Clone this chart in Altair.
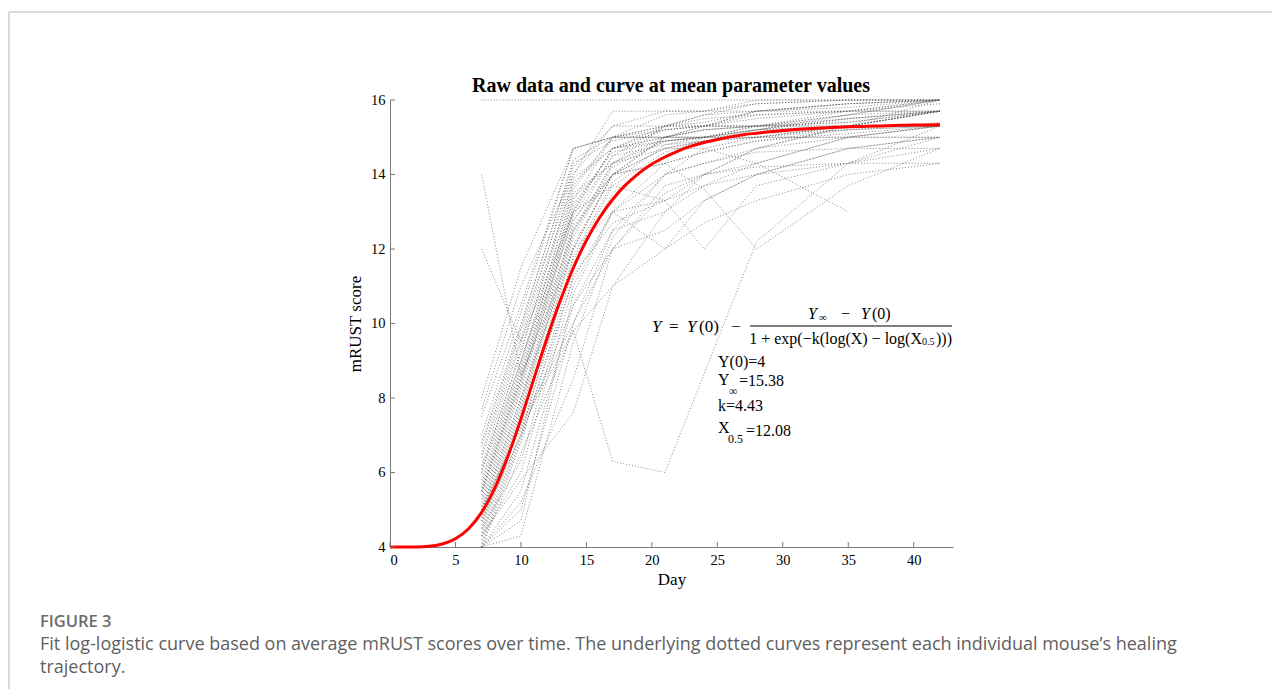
import altair as alt
import pandas as pd

# ---------------- data ----------------
DAYS = [7, 10, 14, 17, 21, 24, 28, 35, 42]

BAND_A = [
    [4.0, 6.8, 11.5, 13.5, 14.5, 15.0, 15.3, 15.6, 16.0],
    [4.2, 7.0, 11.8, 13.8, 14.8, 15.0, 15.2, 15.5, 15.7],
    [4.4, 7.3, 12.0, 14.0, 15.0, 15.3, 15.7, 15.9, 16.0],
    [4.6, 7.6, 12.3, 14.2, 14.9, 15.0, 15.2, 15.3, 15.3],
    [4.8, 7.8, 12.5, 14.3, 15.3, 15.6, 15.7, 15.9, 16.0],
    [5.0, 8.0, 12.7, 14.5, 14.8, 14.9, 15.0, 15.2, 15.4],
    [5.2, 8.3, 13.0, 14.7, 15.2, 15.3, 15.5, 15.7, 15.7],
    [5.4, 8.5, 13.2, 14.6, 14.9, 15.0, 15.0, 15.0, 15.0],
    [5.6, 8.8, 13.3, 15.0, 15.3, 15.6, 15.9, 16.0, 16.0],
    [5.8, 9.0, 13.5, 14.3, 14.7, 14.9, 15.1, 15.3, 15.7],
    [6.0, 9.3, 13.7, 15.0, 15.6, 15.7, 15.7, 15.8, 16.0],
    [6.2, 9.5, 13.8, 14.7, 15.0, 15.2, 15.3, 15.3, 15.3],
    [6.5, 9.8, 14.0, 15.3, 15.3, 15.5, 15.6, 15.7, 15.9],
    [6.8, 10.0, 14.3, 14.9, 15.2, 15.3, 15.3, 15.5, 15.7],
    [7.0, 10.3, 14.7, 15.0, 15.0, 15.0, 15.1, 15.2, 15.3],
    [7.5, 10.5, 14.7, 15.0, 15.0, 15.0, 15.0, 15.0, 15.0],
]
BAND_B = [
    [4.1, 6.9, 11.2, 13.0, 14.3, 14.6, 14.9, 15.1, 15.3],
    [4.3, 7.1, 11.7, 13.7, 14.6, 14.9, 15.2, 15.6, 16.0],
    [4.5, 7.4, 12.1, 14.0, 14.7, 14.9, 15.0, 15.3, 15.7],
    [4.7, 7.7, 12.4, 14.3, 15.0, 15.2, 15.3, 15.6, 15.7],
    [4.9, 7.9, 12.6, 14.0, 14.3, 14.6, 14.9, 15.2, 15.3],
    [5.1, 8.2, 12.9, 14.5, 15.3, 15.4, 15.7, 15.9, 16.0],
    [5.3, 8.4, 13.1, 14.7, 15.0, 15.2, 15.3, 15.4, 15.7],
    [5.5, 8.6, 13.4, 14.3, 14.9, 15.0, 15.2, 15.5, 15.7],
    [5.7, 8.9, 13.6, 15.0, 15.2, 15.3, 15.6, 15.7, 16.0],
    [6.1, 9.2, 13.9, 14.7, 14.9, 15.0, 15.2, 15.3, 15.3],
    [6.4, 9.6, 14.2, 15.3, 15.7, 15.7, 15.9, 16.0, 16.0],
    [6.7, 9.9, 14.4, 15.0, 15.3, 15.3, 15.3, 15.4, 15.7],
]
SLOW = [
    [4.0, 5.5, 10.5, 12.5, 14.0, 14.3, 14.6, 14.7, 14.7],
    [4.0, 5.0, 10.0, 12.0, 13.7, 14.0, 14.2, 14.3, 14.3],
    [4.0, 4.3, 9.5, 12.3, 14.0, 14.3, 14.7, 15.0, 15.3],
    [4.0, 4.7, 10.8, 13.0, 14.0, 14.7, 15.0, 15.3, 15.7],
    [4.3, 6.0, 11.0, 13.0, 13.3, 14.0, 14.3, 15.0, 15.3],
    [4.5, 6.3, 11.3, 12.7, 13.3, 13.7, 14.0, 14.3, 14.7],
    [4.0, 6.5, 9.8, 11.0, 12.0, 12.7, 13.3, 14.0, 14.3],
    [4.7, 7.0, 10.5, 12.0, 12.5, 13.3, 14.0, 14.7, 15.0],
    [5.0, 7.3, 10.0, 12.5, 13.0, 14.0, 14.7, 15.3, 15.7],
    [4.3, 5.8, 7.6, 11.0, 13.0, 13.7, 14.3, 15.0, 15.3],
    [4.0, 5.2, 8.5, 12.0, 13.5, 14.0, 14.7, 15.3, 16.0],
]
FAST = [
    [8.0, 11.5, 14.7, 15.0, 15.0, 15.0, 15.3, 15.3, 15.7],
    [7.7, 11.0, 14.0, 15.7, 15.7, 15.7, 16.0, 16.0, 16.0],
    [16.0, 16.0, 16.0, 16.0, 16.0, 16.0, 16.0, 16.0, 16.0],
]
OUTLIERS = [
    [14.0, 8.6, 12.0, 14.0, 15.0, 15.3, 15.7, 15.7, 16.0],
    [12.0, 9.5, 13.0, 14.7, 15.3, 15.3, 15.3, 15.7, 15.7],
    [5.0, 7.2, 9.8, 6.3, 6.0, None, 12.2, 14.3, 15.0],
    [5.5, 8.5, 12.5, 14.0, 14.7, 14.7, 14.3, 13.0, None],
    [5.0, 8.0, 12.0, 13.0, 12.0, 13.3, 14.0, 14.7, 15.0],
    [6.0, 9.0, 13.0, 13.7, 13.3, 12.0, 13.7, 14.3, 15.3],
    [5.5, 8.7, 12.8, 14.0, 14.3, 13.6, 12.0, 13.7, 14.7],
]

FIT_DAY = [0, 1, 2, 3, 4, 5, 6, 7, 8, 9, 10, 11, 12, 13, 14, 15, 16, 17, 18, 19, 20,
           21, 22, 23, 24, 25, 26, 27, 28, 29, 30, 31, 32, 33, 34, 35, 36, 37, 38, 39, 40, 41, 42]
FIT_SCORE = [4.0, 4.0, 4.0, 4.02, 4.08, 4.22, 4.49, 4.93, 5.58, 6.43, 7.44, 8.53, 9.61, 10.61,
             11.49, 12.23, 12.84, 13.33, 13.72, 14.03, 14.28, 14.47, 14.63, 14.76, 14.86, 14.94,
             15.01, 15.07, 15.11, 15.15, 15.18, 15.21, 15.23, 15.25, 15.27, 15.28, 15.29, 15.30,
             15.31, 15.32, 15.33, 15.33, 15.34]

X_TICKS = [0, 5, 10, 15, 20, 25, 30, 35, 40]
Y_TICKS = [4, 6, 8, 10, 12, 14, 16]

# ---------------- build tables ----------------
rows = []
mid = 0
for group in (BAND_A, BAND_B, SLOW, FAST, OUTLIERS):
    for scores in group:
        for d, s in zip(DAYS, scores):
            if s is not None:
                rows.append({"mouse": mid, "day": d, "score": s})
        mid += 1
traj = pd.DataFrame(rows)
fit = pd.DataFrame({"day": FIT_DAY, "score": FIT_SCORE})

# ---------------- layout ----------------
W, H = 563, 447
OX, OY = 390, 100  # page position of plot origin
SERIF = "Liberation Serif"
SANS = "Open Sans"
AXIS_GRAY = "#7a7a7a"

x_scale = alt.Scale(domain=[0, 43], nice=False, zero=False)
y_scale = alt.Scale(domain=[4, 16], nice=False, zero=False)

X_AXIS = alt.Axis(values=X_TICKS, title="Day", ticks=False, grid=False,
                  domainColor=AXIS_GRAY, labelFont=SERIF, labelFontSize=14.5,
                  labelColor="black", labelPadding=6, titleFont=SERIF,
                  titleFontSize=17, titleFontWeight="normal", titleColor="black",
                  titlePadding=5)
Y_AXIS = alt.Axis(values=Y_TICKS, title="mRUST score", ticks=False, grid=False,
                  domainColor=AXIS_GRAY, labelFont=SERIF, labelFontSize=14.5,
                  labelColor="black", labelPadding=5, titleFont=SERIF,
                  titleFontSize=17, titleFontWeight="normal", titleColor="black",
                  titlePadding=6)

dummy = pd.DataFrame({"k": [0]})

lines = alt.Chart(traj).mark_line(
    strokeDash=[1, 2], strokeWidth=1, color="#555555", opacity=0.7
).encode(
    x=alt.X("day:Q", scale=x_scale, axis=X_AXIS),
    y=alt.Y("score:Q", scale=y_scale, axis=Y_AXIS),
    detail="mouse:N",
)

fit_line = alt.Chart(fit).mark_line(color="#ff0000", strokeWidth=3, interpolate="monotone").encode(
    x=alt.X("day:Q", scale=x_scale, axis=X_AXIS),
    y=alt.Y("score:Q", scale=y_scale, axis=Y_AXIS),
)

xt = alt.Chart(pd.DataFrame({"day": X_TICKS})).mark_rule(color=AXIS_GRAY).encode(
    x=alt.X("day:Q", scale=x_scale, axis=X_AXIS),
    y=alt.value(H), y2=alt.value(H - 5),
)
yt = alt.Chart(pd.DataFrame({"score": Y_TICKS})).mark_rule(color=AXIS_GRAY).encode(
    y=alt.Y("score:Q", scale=y_scale, axis=Y_AXIS),
    x=alt.value(0), x2=alt.value(5),
)


def txt(text, px, py, size=16, font=SERIF, style="normal", weight="normal",
        color="black", align="left", baseline="middle"):
    return alt.Chart(dummy).mark_text(
        text=text, x=px - OX, y=py - OY, fontSize=size, font=font, fontStyle=style,
        fontWeight=weight, color=color, align=align, baseline=baseline,
    )


annotations = [
    txt("Raw data and curve at mean parameter values", 671, 86, size=20, weight="bold", align="center"),
    # equation
    txt("Y", 652, 327, size=17, style="italic"),
    txt("=", 669, 327, size=17),
    txt("Y", 687, 327, size=17, style="italic"),
    txt("(0)", 699, 327, size=17),
    txt("\u2212", 731, 327, size=17),
    txt("Y", 808, 314, style="italic"),
    txt("\u221e", 819, 318, size=11),
    txt("\u2212", 841, 314),
    txt("Y", 861, 314, style="italic"),
    txt("(0)", 872, 314),
    txt("1 + exp(\u2212k(log(X) \u2212 log(X", 922, 339, align="right"),
    txt("0.5", 922, 342, size=10),
    txt(")))", 952, 339, align="right"),
    # parameters
    txt("Y(0)=4", 718, 362),
    txt("Y", 718, 380),
    txt("\u221e", 729, 391, size=12),
    txt("=15.38", 739, 381),
    txt("k=4.43", 718, 406),
    txt("X", 718, 428),
    txt("0.5", 728, 439, size=12),
    txt("=12.08", 746, 431),
    # caption
    txt("FIGURE 3", 40, 622, size=16.5, font=SANS, weight=600, color="#6b6b6b"),
    txt("Fit log-logistic curve based on average mRUST scores over time. The underlying dotted "
        "curves represent each individual mouse\u2019s healing", 40, 645, size=18, font=SANS,
        color="#5f5f5f"),
    txt("trajectory.", 40, 668, size=18, font=SANS, color="#5f5f5f"),
]

frac_bar = alt.Chart(dummy).mark_rule(color="black", strokeWidth=1).encode(
    x=alt.value(750 - OX), x2=alt.value(952 - OX), y=alt.value(326 - OY)
)
frame_top = alt.Chart(dummy).mark_rule(color="#cfcfcf", strokeWidth=1.5).encode(
    x=alt.value(9 - OX), x2=alt.value(1290 - OX), y=alt.value(12 - OY)
)
frame_left = alt.Chart(dummy).mark_rule(color="#cfcfcf", strokeWidth=1.5).encode(
    x=alt.value(9 - OX), y=alt.value(12 - OY), y2=alt.value(710 - OY)
)

chart = alt.layer(
    lines, fit_line, xt, yt, frame_top, frame_left, frac_bar, *annotations
).properties(
    width=W, height=H,
    padding={"left": OX - 8, "top": OY - 8, "right": 1264 - (OX - 8) - W, "bottom": 681 - (OY - 8) - H},
    autosize=alt.AutoSizeParams(type="none"),
    background="white",
).configure_view(stroke=None)

chart.save("out.html", embed_options={"renderer": "svg", "actions": False})
